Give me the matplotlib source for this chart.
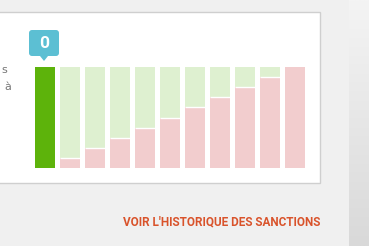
import numpy as np
import matplotlib
matplotlib.use('Agg')
import matplotlib.pyplot as plt
from matplotlib.patches import Rectangle, FancyBboxPatch, Polygon

# data: share of "sanction" (pink) per level, first bar is the current level
levels = list(range(11))
pink_share = [0.0, 0.1, 0.2, 0.3, 0.4, 0.5, 0.6, 0.7, 0.8, 0.9, 1.0]
current = 0
bubble_label = '0'
link_text = "VOIR L'HISTORIQUE DES SANCTIONS"

W, H = 369, 246
fig = plt.figure(figsize=(W / 100, H / 100), dpi=100, facecolor='#f0f0f0')

# background in pixel coords
bg = fig.add_axes([0, 0, 1, 1])
bg.set_xlim(0, W)
bg.set_ylim(H, 0)
bg.axis('off')

grad = np.linspace(0, 1, 100).reshape(-1, 1)
bg.imshow(grad, extent=(349, W, H, 0), cmap=matplotlib.colors.LinearSegmentedColormap.from_list('g', ['#f4f4f4', '#d9d9d9']),
          aspect='auto', zorder=0)
bg.add_patch(Rectangle((-2, 12), 322, 171, facecolor='white', edgecolor='#cfcfcf', lw=1, zorder=1))

bg.text(1, 70, 's', color='#777777', fontsize=8, va='center', ha='left', zorder=2)
bg.text(4, 87, 'à', color='#777777', fontsize=8, va='center', ha='left', zorder=2)

# bubble above current bar
bg.add_patch(FancyBboxPatch((31, 32), 26, 22, boxstyle='round,pad=2,rounding_size=3',
                            facecolor='#5cbfd3', edgecolor='none', zorder=3))
bg.add_patch(Polygon([[40, 56], [48, 56], [44, 61]], closed=True, facecolor='#5cbfd3', edgecolor='none', zorder=3))
bg.text(44, 43.5, bubble_label, color='white', fontsize=12.5, fontweight='bold', ha='center', va='center',
        family=['Roboto', 'DejaVu Sans'], zorder=4)

bg.text(320, 222, link_text, color='#d9532b', fontsize=8.5, fontweight='bold', ha='right', va='center',
        family=['Roboto', 'DejaVu Sans'], zorder=2)

# bars
ax = fig.add_axes([35 / W, 1 - 168 / H, 270 / W, 101 / H])
ax.patch.set_alpha(0)
ax.set_xlim(-0.4, 10.4)
ax.set_ylim(0, 1)
ax.axis('off')

green = np.array([1 - p for p in pink_share])
pink = np.array(pink_share)
x = np.array(levels)
ax.bar(x, pink, width=0.8, color='#f2cdce', linewidth=0)
ax.bar(x, green, bottom=pink, width=0.8, color='#def0d0', linewidth=0)
ax.bar([current], [1], width=0.8, color='#5db30b', linewidth=0)
for xi, p in zip(x, pink):
    if 0 < p < 1:
        ax.hlines(p, xi - 0.4, xi + 0.4, color='white', lw=1)

fig.savefig('out.png', dpi=100, facecolor=fig.get_facecolor())
